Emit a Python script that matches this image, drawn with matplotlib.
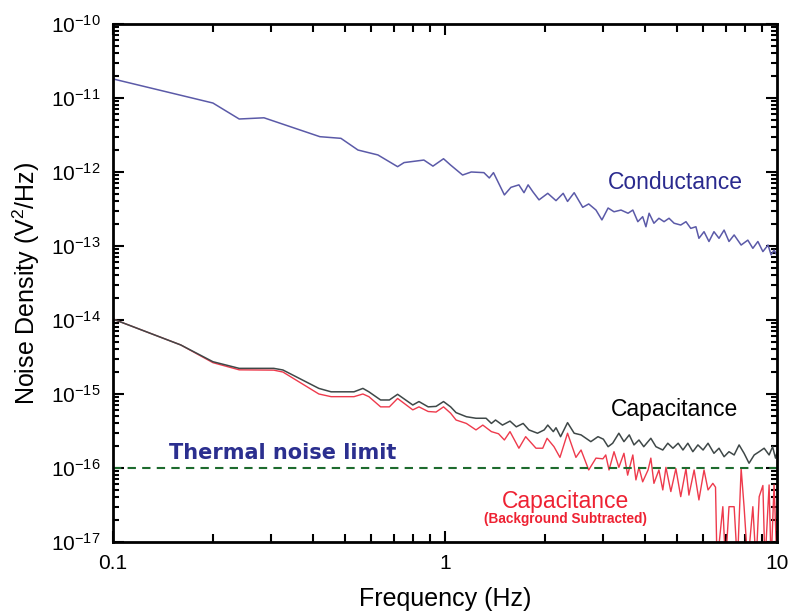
import matplotlib
matplotlib.use("Agg")
import matplotlib.pyplot as plt
from matplotlib.ticker import LogLocator, FixedLocator, FixedFormatter, NullFormatter

plt.rcParams['font.family'] = ['Liberation Sans', 'DejaVu Sans']
plt.rcParams['mathtext.fontset'] = 'custom'
plt.rcParams['mathtext.rm'] = 'Liberation Sans'
plt.rcParams['mathtext.it'] = 'Liberation Sans'

# conductance noise
cond_f = [0.1, 0.2, 0.24, 0.285, 0.42, 0.486, 0.547, 0.628, 0.72, 0.753,
          0.864, 0.92, 0.99, 1.04, 1.13, 1.2, 1.31, 1.36, 1.40, 1.51,
          1.58, 1.67, 1.73, 1.78, 1.84, 1.92, 2.04, 2.16, 2.27, 2.34,
          2.45, 2.60, 2.71, 2.85, 2.97, 3.1, 3.23, 3.39, 3.56, 3.68,
          3.81, 3.94, 4.03, 4.12, 4.26, 4.41, 4.57, 4.73, 4.90, 5.13,
          5.32, 5.50, 5.70, 5.82, 6.03, 6.24, 6.46, 6.69, 6.93, 7.17,
          7.43, 7.8, 8.17, 8.46, 8.76, 9.07, 9.4, 9.6, 9.8, 10]
cond_v = [1.81e-11, 8.55e-12, 5.2e-12, 5.4e-12, 3.0e-12, 2.85e-12, 1.98e-12, 1.7e-12, 1.18e-12, 1.34e-12,
          1.45e-12, 1.2e-12, 1.51e-12, 1.24e-12, 9.1e-13, 1.0e-12, 9.8e-13, 8.3e-13, 9.8e-13, 4.9e-13,
          6.2e-13, 6.7e-13, 5.25e-13, 6.7e-13, 5.4e-13, 4.2e-13, 5.15e-13, 4.1e-13, 5.15e-13, 4.0e-13,
          5.25e-13, 3.33e-13, 3.7e-13, 3.06e-13, 2.25e-13, 3.26e-13, 2.9e-13, 3.06e-13, 2.77e-13, 3.06e-13,
          2.13e-13, 2.49e-13, 1.82e-13, 2.77e-13, 2.03e-13, 2.37e-13, 2.13e-13, 2.37e-13, 2.03e-13, 1.92e-13,
          2.13e-13, 1.73e-13, 1.82e-13, 1.27e-13, 1.56e-13, 1.15e-13, 1.56e-13, 1.27e-13, 1.64e-13, 1.15e-13,
          1.41e-13, 1.03e-13, 1.2e-13, 9.3e-14, 1.15e-13, 8.4e-14, 1.03e-13, 7.6e-14, 8.8e-14, 7.5e-14]

# capacitance noise
cap_f = [0.1, 0.16, 0.2, 0.24, 0.305, 0.325, 0.417, 0.454, 0.532, 0.566,
         0.59, 0.64, 0.68, 0.72, 0.80, 0.835, 0.89, 0.94, 0.99, 1.04,
         1.08, 1.16, 1.24, 1.33, 1.38, 1.42, 1.49, 1.57, 1.64, 1.72,
         1.79, 1.90, 1.99, 2.04, 2.12, 2.16, 2.23, 2.34, 2.45, 2.57,
         2.75, 2.89, 3.0, 3.1, 3.2, 3.34, 3.46, 3.59, 3.71, 3.84,
         3.97, 4.17, 4.32, 4.53, 4.69, 4.86, 5.04, 5.21, 5.39, 5.58,
         5.78, 5.99, 6.2, 6.46, 6.69, 6.93, 7.17, 7.43, 7.69, 7.96,
         8.24, 8.54, 8.84, 9.15, 9.47, 9.7, 9.9, 10]
cap_v = [1.03e-14, 4.6e-15, 2.73e-15, 2.22e-15, 2.22e-15, 2.11e-15, 1.19e-15, 1.07e-15, 1.07e-15, 1.19e-15,
         1.07e-15, 8.3e-16, 8.3e-16, 9.9e-16, 7.1e-16, 7.9e-16, 6.7e-16, 6.8e-16, 7.9e-16, 6.7e-16,
         5.6e-16, 4.93e-16, 4.7e-16, 4.7e-16, 4.0e-16, 4.45e-16, 3.8e-16, 4.3e-16, 3.6e-16, 4.0e-16,
         3.27e-16, 2.95e-16, 3.27e-16, 3.8e-16, 3.1e-16, 3.5e-16, 2.65e-16, 4.1e-16, 2.95e-16, 2.8e-16,
         2.27e-16, 2.65e-16, 2.45e-16, 1.94e-16, 2.16e-16, 2.95e-16, 2.27e-16, 2.8e-16, 2.05e-16, 2.39e-16,
         1.94e-16, 2.52e-16, 1.94e-16, 1.75e-16, 2.16e-16, 1.85e-16, 2.16e-16, 1.75e-16, 2.16e-16, 1.66e-16,
         2.05e-16, 1.75e-16, 2.16e-16, 1.58e-16, 1.85e-16, 1.42e-16, 1.66e-16, 1.5e-16, 2.05e-16, 1.58e-16,
         1.16e-16, 1.5e-16, 1.66e-16, 1.85e-16, 1.5e-16, 1.94e-16, 1.36e-16, 1.6e-16]

# capacitance, background subtracted (5e-18 = below the axis)
sub_f = [0.1, 0.16, 0.2, 0.24, 0.305, 0.325, 0.417, 0.454, 0.532, 0.566,
         0.59, 0.64, 0.68, 0.72, 0.80, 0.835, 0.89, 0.94, 0.99, 1.04,
         1.08, 1.16, 1.24, 1.30, 1.38, 1.45, 1.51, 1.57, 1.67, 1.75,
         1.88, 1.97, 2.03, 2.13, 2.22, 2.34, 2.48, 2.57, 2.71, 2.85,
         2.99, 3.05, 3.12, 3.23, 3.34, 3.46, 3.55, 3.68, 3.76, 3.84,
         3.94, 4.09, 4.17, 4.26, 4.41, 4.53, 4.63, 4.79, 4.96, 5.13,
         5.32, 5.43, 5.63, 5.82, 6.03, 6.2, 6.41, 6.53, 6.6, 6.87,
         7.0, 7.17, 7.43, 7.6, 7.8, 7.96, 8.17, 8.46, 8.65, 8.84,
         9.07, 9.2, 9.47, 9.6, 9.8, 10]
sub_v = [1.03e-14, 4.6e-15, 2.65e-15, 2.12e-15, 2.1e-15, 1.98e-15, 1.0e-15, 9.2e-16, 9.2e-16, 1.0e-15,
         9.2e-16, 6.7e-16, 6.7e-16, 8.7e-16, 6.1e-16, 6.7e-16, 5.8e-16, 5.7e-16, 6.7e-16, 5.5e-16,
         4.45e-16, 4.0e-16, 3.27e-16, 3.8e-16, 3.1e-16, 2.9e-16, 2.39e-16, 3.1e-16, 1.85e-16, 2.65e-16,
         1.85e-16, 1.85e-16, 2.52e-16, 1.94e-16, 1.39e-16, 2.95e-16, 1.39e-16, 1.75e-16, 9.4e-17, 1.36e-16,
         1.33e-16, 1.5e-16, 9.4e-17, 1.66e-16, 1.02e-16, 1.58e-16, 8.0e-17, 1.5e-16, 6.9e-17, 1.02e-16,
         6.5e-17, 9.4e-17, 1.36e-16, 6.2e-17, 9.4e-17, 5.05e-17, 1.02e-16, 4.8e-17, 9.8e-17, 4.1e-17,
         9.8e-17, 4.3e-17, 9.4e-17, 3.7e-17, 9.4e-17, 5.05e-17, 6.2e-17, 5.5e-17, 5e-18, 3.0e-17,
         5e-18, 3.0e-17, 3.0e-17, 5e-18, 9.8e-17, 3.0e-17, 5e-18, 3.0e-17, 5e-18, 4.1e-17,
         5.8e-17, 5e-18, 5.9e-17, 5e-18, 5.9e-17, 5e-18]

thermal_limit = 1e-16
y_exps = [-17, -16, -15, -14, -13, -12, -11, -10]
x_ticks = [0.1, 1, 10]
x_labels = ['0.1', '1', '10']

fig = plt.figure(figsize=(7.9, 6.12), dpi=100)
ax = fig.add_axes([0.143, 0.1144, 0.8405, 0.8464])

ax.plot(sub_f, sub_v, color='#ee3a4c', lw=1.0)
ax.plot(cap_f, cap_v, color='#3f4848', lw=1.1)
ax.plot(cond_f, cond_v, color='#5b5aa8', lw=1.1)
ax.axhline(thermal_limit, color='#1d6b2e', lw=1.5, ls=(0, (4, 3)))

ax.set_xscale('log')
ax.set_yscale('log')
ax.set_xlim(0.1, 10)
ax.set_ylim(1e-17, 1e-10)

ax.xaxis.set_major_locator(FixedLocator(x_ticks))
ax.xaxis.set_major_formatter(FixedFormatter(x_labels))
ax.xaxis.set_minor_locator(LogLocator(base=10, subs=range(2, 10)))
ax.xaxis.set_minor_formatter(NullFormatter())
ax.yaxis.set_major_locator(FixedLocator([10.0 ** e for e in y_exps]))
ax.yaxis.set_major_formatter(FixedFormatter(['$10^{%d}$' % e for e in y_exps]))
ax.yaxis.set_minor_locator(LogLocator(base=10, subs=range(2, 10)))
ax.yaxis.set_minor_formatter(NullFormatter())

ax.tick_params(which='both', direction='in', top=True, right=True, width=1.5)
ax.tick_params(which='major', length=8, labelsize=15, pad=9)
ax.tick_params(axis='x', which='minor', length=6)
ax.tick_params(axis='y', which='minor', length=4)
for s in ax.spines.values():
    s.set_linewidth(2)

ax.set_xlabel('Frequency (Hz)', fontsize=18, labelpad=10)
ax.set_ylabel('Noise Density (V$^2$/Hz)', fontsize=18, labelpad=6)

ax.text(4.96, 7.1e-13, 'Conductance', color='#2a2a8e', fontsize=16.5,
        ha='center', va='center')
ax.text(4.9, 6.1e-16, 'Capacitance', color='black', fontsize=16.5,
        ha='center', va='center')
ax.text(0.325, 1.6e-16, 'Thermal noise limit', color='#2b2f8f', fontsize=15,
        fontweight='bold', family='DejaVu Sans', ha='center', va='center')
ax.text(2.3, 3.5e-17, 'Capacitance', color='#ee2233', fontsize=16.5,
        ha='center', va='center')
ax.text(2.31, 2.05e-17, '(Background Subtracted)', color='#ee2233', fontsize=9.8,
        fontweight='bold', ha='center', va='center')

fig.savefig('out.png', dpi=100)
